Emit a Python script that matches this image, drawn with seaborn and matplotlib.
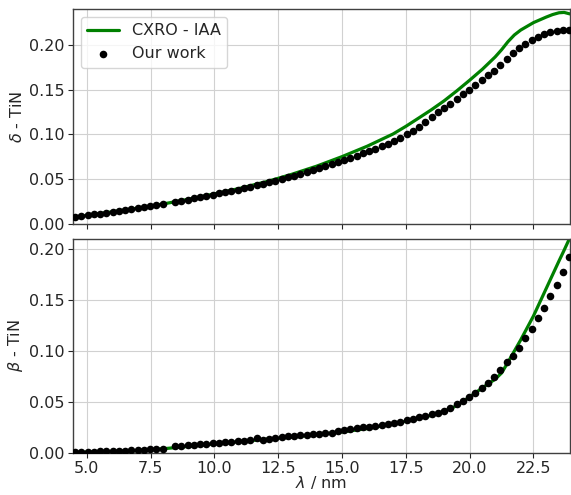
import numpy as np
import pandas as pd
import matplotlib
matplotlib.use("Agg")
import matplotlib.pyplot as plt
import seaborn as sns

# Wavelength grid of the measured optical constants (nm)
wl_meas = [4.54, 4.79, 5.03, 5.28, 5.52, 5.77, 6.01, 6.26, 6.50, 6.75,
           6.99, 7.24, 7.48, 7.73, 7.97, 8.46, 8.71, 8.95, 9.20, 9.44,
           9.69, 9.93, 10.18, 10.42, 10.67, 10.91, 11.16, 11.40, 11.65, 11.89,
           12.14, 12.38, 12.63, 12.87, 13.12, 13.36, 13.61, 13.85, 14.10, 14.34,
           14.59, 14.83, 15.08, 15.32, 15.57, 15.81, 16.06, 16.30, 16.55, 16.79,
           17.04, 17.28, 17.53, 17.77, 18.02, 18.26, 18.51, 18.75, 19.00, 19.24,
           19.49, 19.73, 19.98, 20.22, 20.47, 20.71, 20.96, 21.20, 21.45, 21.69,
           21.94, 22.18, 22.43, 22.67, 22.92, 23.16, 23.41, 23.65, 23.90]

delta_meas = [0.0077, 0.0087, 0.0096, 0.0106, 0.0115, 0.0125, 0.0135, 0.0145, 0.0155, 0.0165,
              0.0175, 0.0186, 0.0197, 0.0208, 0.0220, 0.0245, 0.0258, 0.0272, 0.0286, 0.0300,
              0.0314, 0.0329, 0.0343, 0.0357, 0.0371, 0.0385, 0.0400, 0.0415, 0.0431, 0.0447,
              0.0464, 0.0482, 0.0500, 0.0519, 0.0538, 0.0557, 0.0577, 0.0598, 0.0620, 0.0642,
              0.0665, 0.0690, 0.0715, 0.0739, 0.0764, 0.0788, 0.0813, 0.0840, 0.0868, 0.0896,
              0.0926, 0.0960, 0.1000, 0.1042, 0.1087, 0.1135, 0.1198, 0.1246, 0.1295, 0.1345,
              0.1397, 0.1449, 0.1500, 0.1552, 0.1605, 0.1658, 0.1712, 0.1772, 0.1842, 0.1905,
              0.1962, 0.2010, 0.2052, 0.2087, 0.2117, 0.2141, 0.2160, 0.2170, 0.2165]

beta_meas = [0.0010, 0.0011, 0.0013, 0.0014, 0.0016, 0.0018, 0.0020, 0.0022, 0.0024, 0.0026,
             0.0029, 0.0032, 0.0035, 0.0039, 0.0042, 0.0066, 0.0072, 0.0078, 0.0082, 0.0086,
             0.0090, 0.0094, 0.0099, 0.0104, 0.0110, 0.0114, 0.0120, 0.0124, 0.0145, 0.0128,
             0.0135, 0.0152, 0.0158, 0.0163, 0.0167, 0.0172, 0.0177, 0.0183, 0.0189, 0.0195,
             0.0201, 0.0220, 0.0227, 0.0235, 0.0243, 0.0251, 0.0260, 0.0268, 0.0277, 0.0287,
             0.0295, 0.0307, 0.0321, 0.0336, 0.0350, 0.0364, 0.0379, 0.0396, 0.0415, 0.0445,
             0.0477, 0.0510, 0.0548, 0.0590, 0.0640, 0.0690, 0.0742, 0.0815, 0.0889, 0.0955,
             0.1035, 0.1125, 0.1220, 0.1328, 0.1425, 0.1540, 0.1650, 0.1775, 0.1920]

# Tabulated CXRO values
wl_cxro = [4.46, 5.0, 6.0, 7.0, 8.0, 9.0, 10.0, 11.0, 12.0, 12.5,
           13.0, 14.0, 15.0, 16.0, 17.0, 17.5, 18.0, 18.5, 19.0, 19.5,
           20.0, 20.5, 21.0, 21.25, 21.5, 21.75, 22.0, 22.5, 23.0, 23.25,
           23.5, 23.7, 23.93]

delta_cxro = [0.0075, 0.0096, 0.0136, 0.0177, 0.0224, 0.0277, 0.0336, 0.0398, 0.0470, 0.0510,
              0.0552, 0.0645, 0.0752, 0.0870, 0.1005, 0.1090, 0.1182, 0.1275, 0.1375, 0.1487,
              0.1605, 0.1728, 0.1865, 0.1945, 0.2035, 0.2110, 0.2165, 0.2248, 0.2310, 0.2338,
              0.2358, 0.2362, 0.2345]

beta_cxro = [0.0005, 0.0009, 0.0015, 0.0025, 0.0042, 0.0066, 0.0090, 0.0112, 0.0135, 0.0145,
             0.0155, 0.0180, 0.0207, 0.0240, 0.0285, 0.0312, 0.0340, 0.0370, 0.0410, 0.0465,
             0.0550, 0.0640, 0.0725, 0.0785, 0.0890, 0.1000, 0.1110, 0.1345, 0.1615, 0.1750,
             0.1885, 0.1990, 0.2115]

x_ticks = [5.0, 7.5, 10.0, 12.5, 15.0, 17.5, 20.0, 22.5]
y_ticks = [0.00, 0.05, 0.10, 0.15, 0.20]

meas = pd.DataFrame({"wl": wl_meas, "delta": delta_meas, "beta": beta_meas})
cxro = pd.DataFrame({"wl": wl_cxro, "delta": delta_cxro, "beta": beta_cxro})

sns.set_style("whitegrid", {
    "axes.edgecolor": ".25",
    "grid.color": ".82",
    "xtick.bottom": True,
    "ytick.left": True,
    "xtick.color": ".15",
    "ytick.color": ".15",
})
plt.rcParams["font.family"] = ["DejaVu Sans"]
plt.rcParams["xtick.major.size"] = 3.5
plt.rcParams["ytick.major.size"] = 3.5
plt.rcParams["xtick.major.pad"] = 2.0
plt.rcParams["ytick.major.pad"] = 2.5
plt.rcParams["mathtext.fontset"] = "dejavusans"

fig = plt.figure(figsize=(5.71, 4.95), dpi=100)
ax_d = fig.add_axes([0.1278, 0.5475, 0.8704, 0.4343])
ax_b = fig.add_axes([0.1278, 0.0848, 0.8704, 0.4323], sharex=ax_d)

for ax, col, ylab, ytop in [(ax_d, "delta", r"$\delta$ - TiN", 0.24),
                            (ax_b, "beta", r"$\beta$ - TiN", 0.21)]:
    sns.lineplot(data=cxro, x="wl", y=col, ax=ax, color="green", lw=2.3,
                 label="CXRO - IAA", legend=False)
    sns.scatterplot(data=meas, x="wl", y=col, ax=ax, color="black", s=30,
                    linewidth=0, label="Our work", legend=False, zorder=3)
    ax.set_ylim(0, ytop)
    ax.set_yticks(y_ticks)
    ax.set_ylabel(ylab, fontsize=11.5, labelpad=3)
    ax.tick_params(labelsize=11.5)
    for sp in ax.spines.values():
        sp.set_linewidth(1.0)

ax_d.set_xlim(4.46, 23.93)
ax_d.set_xticks(x_ticks)
ax_d.set_xlabel("")
ax_d.tick_params(labelbottom=False)
ax_b.set_xlabel(r"$\lambda$ / nm", fontsize=11.5, labelpad=-1)

ax_d.legend(loc="upper left", fontsize=11.5, frameon=True, borderaxespad=0.5,
            handlelength=2.0)

fig.savefig("out.png", dpi=100)
